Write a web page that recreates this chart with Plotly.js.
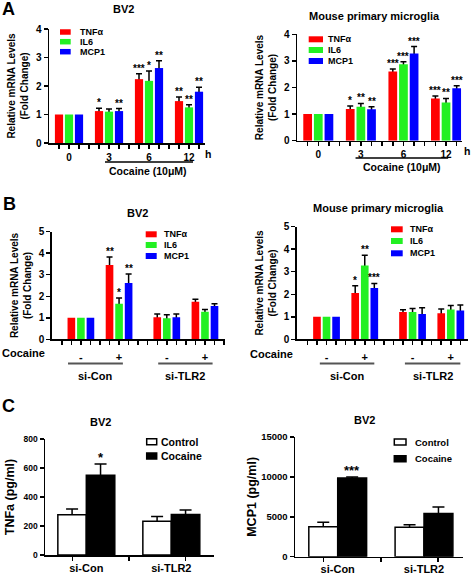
<!DOCTYPE html>
<html><head><meta charset="utf-8">
<script src="https://cdn.plot.ly/plotly-3.0.1.min.js"></script>
<style>html,body{margin:0;padding:0;background:#fff}#chart{width:472px;height:576px}</style>
</head><body><div id="chart"></div>
<script>
// ================= DATA =================
const seriesNames = ['TNFα', 'IL6', 'MCP1'];
const timeLabels = ['0', '3', '6', '12'];

// Panel A – BV2
const aBv2Tnf = [1.00, 1.12, 2.24, 1.47];
const aBv2TnfErr = [0, 0.10, 0.19, 0.14];
const aBv2Il6 = [1.00, 1.10, 2.18, 1.25];
const aBv2Il6Err = [0, 0.09, 0.35, 0.09];
const aBv2Mcp1 = [1.00, 1.12, 2.63, 1.80];
const aBv2Mcp1Err = [0, 0.09, 0.26, 0.16];
const aBv2TnfSig = ['', '*', '***', '**'];
const aBv2Il6Sig = ['', '', '*', '**'];
const aBv2Mcp1Sig = ['', '**', '**', '**'];

// Panel A – Mouse primary microglia
const aMgTnf = [1.00, 1.19, 2.60, 1.59];
const aMgTnfErr = [0, 0.11, 0.10, 0.09];
const aMgIl6 = [1.00, 1.28, 2.87, 1.44];
const aMgIl6Err = [0, 0.12, 0.10, 0.15];
const aMgMcp1 = [1.00, 1.18, 3.28, 1.97];
const aMgMcp1Err = [0, 0.10, 0.26, 0.10];
const aMgTnfSig = ['', '*', '***', '***'];
const aMgIl6Sig = ['', '**', '***', '**'];
const aMgMcp1Sig = ['', '**', '***', '***'];

// Panel B
const cocaineSigns = ['-', '+', '-', '+'];
const siGroups = ['si-Con', 'si-TLR2'];
const bBv2Tnf = [1.00, 3.45, 1.03, 1.74];
const bBv2TnfErr = [0, 0.38, 0.15, 0.12];
const bBv2Il6 = [1.00, 1.65, 0.98, 1.28];
const bBv2Il6Err = [0, 0.27, 0.16, 0.10];
const bBv2Mcp1 = [1.00, 2.62, 1.03, 1.55];
const bBv2Mcp1Err = [0, 0.42, 0.14, 0.10];
const bBv2TnfSig = ['', '**', '', ''];
const bBv2Il6Sig = ['', '*', '', ''];
const bBv2Mcp1Sig = ['', '**', '', ''];

const bMgTnf = [1.00, 2.06, 1.21, 1.16];
const bMgTnfErr = [0, 0.32, 0.10, 0.18];
const bMgIl6 = [1.00, 3.28, 1.21, 1.32];
const bMgIl6Err = [0, 0.45, 0.16, 0.18];
const bMgMcp1 = [1.00, 2.28, 1.12, 1.28];
const bMgMcp1Err = [0, 0.20, 0.28, 0.24];
const bMgTnfSig = ['', '*', '', ''];
const bMgIl6Sig = ['', '**', '', ''];
const bMgMcp1Sig = ['', '***', '', ''];

// Panel C (ELISA)
const elisaGroups = ['si-Con', 'si-TLR2'];
const elisaSeries = ['Control', 'Cocaine'];
const cTnfControl = [278, 232];
const cTnfControlErr = [40, 33];
const cTnfCocaine = [550, 280];
const cTnfCocaineErr = [78, 30];
const cTnfSig = ['*', ''];
const cMcp1Control = [3750, 3700];
const cMcp1ControlErr = [580, 290];
const cMcp1Cocaine = [9850, 5400];
const cMcp1CocaineErr = [150, 820];
const cMcp1Sig = ['***', ''];

// ================= LAYOUT HELPERS =================
const W = 472, H = 576;
const fx = p => p / W;
const fy = p => 1 - p / H;
const FONT = 'Liberation Sans, Arial, Helvetica, sans-serif';
const seriesColors = ['#FF0000', '#22F022', '#0000FF'];
const bold = (size, color) => ({family: FONT, size: size, color: color || '#000', weight: 'bold'});

const traces = [], annotations = [], shapes = [];
const layout = {
  width: W, height: H, margin: {l: 0, r: 0, t: 0, b: 0},
  paper_bgcolor: '#fff', plot_bgcolor: 'rgba(0,0,0,0)',
  barmode: 'overlay', showlegend: false, font: {family: FONT, color: '#000'},
  annotations: annotations, shapes: shapes
};

function axisBase(extra) {
  return Object.assign({
    showline: true, linecolor: '#000', linewidth: 1.5,
    ticks: 'outside', ticklen: 4, tickwidth: 1.5, tickcolor: '#000',
    showgrid: false, zeroline: false, fixedrange: true,
    tickfont: bold(10)
  }, extra);
}

function setAxes(n, xPx, yPx, xRange, yRange, xExtra, yExtra) {
  const xk = n === 1 ? 'xaxis' : 'xaxis' + n;
  const yk = n === 1 ? 'yaxis' : 'yaxis' + n;
  layout[xk] = axisBase(Object.assign({
    domain: [fx(xPx[0]), fx(xPx[1])], range: xRange, anchor: 'y' + (n === 1 ? '' : n)
  }, xExtra));
  layout[yk] = axisBase(Object.assign({
    domain: [fy(yPx[0]), fy(yPx[1])], range: yRange, anchor: 'x' + (n === 1 ? '' : n)
  }, yExtra));
}

function ann(text, xPx, yPx, size, extra) {
  annotations.push(Object.assign({
    text: text, x: fx(xPx), y: fy(yPx), xref: 'paper', yref: 'paper',
    showarrow: false, font: bold(size), xanchor: 'center', yanchor: 'middle'
  }, extra));
}

function addGrouped(n, centers, vals, errs, sigs, barWidth) {
  const xa = 'x' + (n === 1 ? '' : n), ya = 'y' + (n === 1 ? '' : n);
  // error bars first (transparent bars), colored bars drawn on top hide the lower half
  vals.forEach((v, s) => {
    const xs = centers.map(c => c + s - 1);
    traces.push({
      type: 'bar', x: xs, y: v, xaxis: xa, yaxis: ya, width: barWidth,
      marker: {color: 'rgba(0,0,0,0)', line: {width: 0}}, hoverinfo: 'skip', showlegend: false,
      error_y: {type: 'data', array: errs[s].map(e => e > 0 ? e : NaN), symmetric: true,
                color: '#000', thickness: 1.5, width: 3}
    });
  });
  vals.forEach((v, s) => {
    const xs = centers.map(c => c + s - 1);
    traces.push({
      type: 'bar', name: seriesNames[s], x: xs, y: v, xaxis: xa, yaxis: ya, width: barWidth,
      marker: {color: seriesColors[s], line: {width: 0}}, showlegend: false
    });
    sigs[s].forEach((t, g) => {
      if (!t) return;
      annotations.push({
        text: t, x: xs[g], y: v[g] + errs[s][g], xref: xa, yref: ya, showarrow: false,
        xanchor: 'center', yanchor: 'bottom', yshift: -2, font: bold(10)
      });
    });
  });
}

function addLegend(names, fills, lines, bx0, bx1, rows, bh, tx, size) {
  names.forEach((nm, i) => {
    shapes.push({type: 'rect', xref: 'paper', yref: 'paper',
      x0: fx(bx0), x1: fx(bx1), y0: fy(rows[i] + bh / 2), y1: fy(rows[i] - bh / 2),
      fillcolor: fills[i], line: {color: lines[i], width: lines[i] === 'rgba(0,0,0,0)' ? 0 : 1.5}});
    ann(nm, tx, rows[i], size, {xanchor: 'left'});
  });
}

// ================= PANEL A =================
const aCenters = timeLabels.map((_, i) => 2 + 4 * i);
const aSlots = Array.from({length: 15}, (_, i) => i + 1);
const yTitleMRNA = {text: 'Relative mRNA Levels<br>(Fold Change)', font: bold(10), standoff: 5};

function aXAxis(extra) {
  return Object.assign({tickmode: 'array', tickvals: aCenters, ticktext: timeLabels,
    minor: {tickmode: 'array', tickvals: aSlots, ticks: 'outside', ticklen: 4, tickwidth: 1.5, tickcolor: '#000'}}, extra);
}

setAxes(1, [49, 205], [143, 29], [0, 15.6], [0, 4], aXAxis({}),
  {tickvals: [0, 1, 2, 3, 4], title: yTitleMRNA});
addGrouped(1, aCenters, [aBv2Tnf, aBv2Il6, aBv2Mcp1], [aBv2TnfErr, aBv2Il6Err, aBv2Mcp1Err],
  [aBv2TnfSig, aBv2Il6Sig, aBv2Mcp1Sig], 0.82);

setAxes(2, [297, 462], [140.7, 34.3], [0, 15.5], [0, 4], aXAxis({}),
  {tickvals: [0, 1, 2, 3, 4], title: yTitleMRNA});
addGrouped(2, aCenters, [aMgTnf, aMgIl6, aMgMcp1], [aMgTnfErr, aMgIl6Err, aMgMcp1Err],
  [aMgTnfSig, aMgIl6Sig, aMgMcp1Sig], 0.82);

// titles, letters
ann('A', 8.5, 9, 18);
ann('BV2', 123, 9, 11);
ann('Mouse primary microglia', 374, 16, 11);

// "h" and cocaine brackets
ann('h', 208, 153.5, 10.5);
ann('h', 467, 150.5, 10.5);
shapes.push({type: 'line', xref: 'x', yref: 'paper', x0: 5.6, x1: 14.4, y0: fy(162), y1: fy(162), line: {color: '#000', width: 1.5}});
ann('Cocaine (10μM)', 148, 171, 10.5);
shapes.push({type: 'line', xref: 'x2', yref: 'paper', x0: 5.5, x1: 14.2, y0: fy(158), y1: fy(158), line: {color: '#000', width: 1.5}});
ann('Cocaine (10μM)', 402, 167, 10.5);

addLegend(seriesNames, seriesColors, ['rgba(0,0,0,0)', 'rgba(0,0,0,0)', 'rgba(0,0,0,0)'],
  60, 70.7, [32, 41.7, 51.7], 5.5, 78, 9);
addLegend(seriesNames, seriesColors, ['rgba(0,0,0,0)', 'rgba(0,0,0,0)', 'rgba(0,0,0,0)'],
  308.7, 323, [39.3, 50, 61], 6, 326, 9);

// ================= PANEL B =================
const bCenters = cocaineSigns.map((_, i) => 2 + 4 * i + (i >= 2 ? 1 : 0));
const bSlots = Array.from({length: 18}, (_, i) => i);
function bXAxis(extra) {
  return Object.assign({tickmode: 'array', tickvals: bCenters, ticktext: cocaineSigns,
    tickfont: bold(11), ticklabelstandoff: 3,
    minor: {tickmode: 'array', tickvals: bSlots, ticks: 'outside', ticklen: 4, tickwidth: 1.5, tickcolor: '#000'}}, extra);
}
setAxes(3, [51.7, 225], [339.3, 231.7], [-1.06, 17.1], [0, 5], bXAxis({}),
  {tickvals: [0, 1, 2, 3, 4, 5], title: yTitleMRNA});
addGrouped(3, bCenters, [bBv2Tnf, bBv2Il6, bBv2Mcp1], [bBv2TnfErr, bBv2Il6Err, bBv2Mcp1Err],
  [bBv2TnfSig, bBv2Il6Sig, bBv2Mcp1Sig], 0.8);

setAxes(4, [296.7, 468], [339.3, 226.7], [-1.12, 16.8], [0, 5], bXAxis({}),
  {tickvals: [0, 1, 2, 3, 4, 5], title: yTitleMRNA});
addGrouped(4, bCenters, [bMgTnf, bMgIl6, bMgMcp1], [bMgTnfErr, bMgIl6Err, bMgMcp1Err],
  [bMgTnfSig, bMgIl6Sig, bMgMcp1Sig], 0.8);

ann('B', 9, 204, 18);
ann('BV2', 137, 213, 11);
ann('Mouse primary microglia', 378, 208, 11);
ann('Cocaine', 23.5, 353, 11);
ann('Cocaine', 271, 353.5, 11);

const bBrackets = [[0.65, 6.4], [10.1, 15.8]];
const bBrackets2 = [[1.3, 7.0], [10.2, 16.0]];
bBrackets.forEach((b, i) => {
  shapes.push({type: 'line', xref: 'x3', yref: 'paper', x0: b[0], x1: b[1], y0: fy(363.5), y1: fy(363.5), line: {color: '#555', width: 2}});
  annotations.push({text: siGroups[i], x: (b[0] + b[1]) / 2, y: fy(375.5), xref: 'x3', yref: 'paper', showarrow: false, font: bold(11), yanchor: 'middle'});
});
bBrackets2.forEach((b, i) => {
  shapes.push({type: 'line', xref: 'x4', yref: 'paper', x0: b[0], x1: b[1], y0: fy(363.5), y1: fy(363.5), line: {color: '#555', width: 2}});
  annotations.push({text: siGroups[i], x: (b[0] + b[1]) / 2, y: fy(375.5), xref: 'x4', yref: 'paper', showarrow: false, font: bold(11), yanchor: 'middle'});
});

addLegend(seriesNames, seriesColors, ['rgba(0,0,0,0)', 'rgba(0,0,0,0)', 'rgba(0,0,0,0)'],
  145.7, 156.7, [234.3, 245, 256], 6, 161.7, 9);
addLegend(seriesNames, seriesColors, ['rgba(0,0,0,0)', 'rgba(0,0,0,0)', 'rgba(0,0,0,0)'],
  391, 402.7, [229.3, 241, 253.3], 6, 407.7, 9);

// ================= PANEL C =================
const cCenters = elisaGroups.map((_, i) => i + 1);
const cBarW = 0.335;
const cFills = ['#FFFFFF', '#000000'];
function addElisa(n, vals, errs, sigs) {
  const xa = 'x' + n, ya = 'y' + n;
  vals.forEach((v, s) => {
    const xs = cCenters.map(c => c + (s - 0.5) * cBarW);
    traces.push({type: 'bar', x: xs, y: v, xaxis: xa, yaxis: ya, width: cBarW,
      marker: {color: 'rgba(0,0,0,0)', line: {width: 0}}, hoverinfo: 'skip', showlegend: false,
      error_y: {type: 'data', array: errs[s], symmetric: true, color: '#000', thickness: 1.5, width: 6}});
  });
  vals.forEach((v, s) => {
    const xs = cCenters.map(c => c + (s - 0.5) * cBarW);
    traces.push({type: 'bar', name: elisaSeries[s], x: xs, y: v, xaxis: xa, yaxis: ya, width: cBarW,
      marker: {color: cFills[s], line: {color: '#000', width: 1.5}}, showlegend: false});
    sigs[s].forEach((t, g) => {
      if (!t) return;
      annotations.push({text: t, x: xs[g], y: v[g] + errs[s][g], xref: xa, yref: ya, showarrow: false,
        xanchor: 'center', yanchor: 'bottom', yshift: -3, font: bold(13)});
    });
  });
}
function cXAxis(size) {
  return {tickmode: 'array', tickvals: cCenters, ticktext: elisaGroups, ticks: '', ticklen: 4,
    tickfont: bold(size), ticklabelstandoff: 2,
    minor: {tickmode: 'array', tickvals: [0.835, 1.5, 2.165], ticks: 'outside', ticklen: 4, tickwidth: 1.5, tickcolor: '#000'}};
}
setAxes(5, [45, 214], [555, 439], [0.514, 2.502], [0, 800], cXAxis(11),
  {tickvals: [0, 200, 400, 600, 800], tickfont: bold(8.5),
   title: {text: 'TNFa (pg/ml)', font: bold(12.5), standoff: 6}});
addElisa(5, [cTnfControl, cTnfCocaine], [cTnfControlErr, cTnfCocaineErr], [['', ''], cTnfSig]);

setAxes(6, [295, 463], [556.7, 437], [0.505, 2.452], [0, 15000], cXAxis(11),
  {tickvals: [0, 5000, 10000, 15000], tickformat: 'd', tickfont: bold(9.5),
   title: {text: 'MCP1 (pg/ml)', font: bold(12.5), standoff: 2}});
addElisa(6, [cMcp1Control, cMcp1Cocaine], [cMcp1ControlErr, cMcp1CocaineErr], [['', ''], cMcp1Sig]);

ann('C', 8.5, 406, 18);
ann('BV2', 100, 422, 11);
ann('BV2', 364, 420, 11);
addLegend(elisaSeries, cFills, ['#000', '#000'], 146.7, 156.7, [441.7, 456], 6, 159.3, 10.5);
addLegend(elisaSeries, cFills, ['#000', '#000'], 394.3, 406, [442, 458.7], 6, 412.7, 9.5);

Plotly.newPlot('chart', traces, layout, {staticPlot: true, displayModeBar: false});
</script>
</body></html>
